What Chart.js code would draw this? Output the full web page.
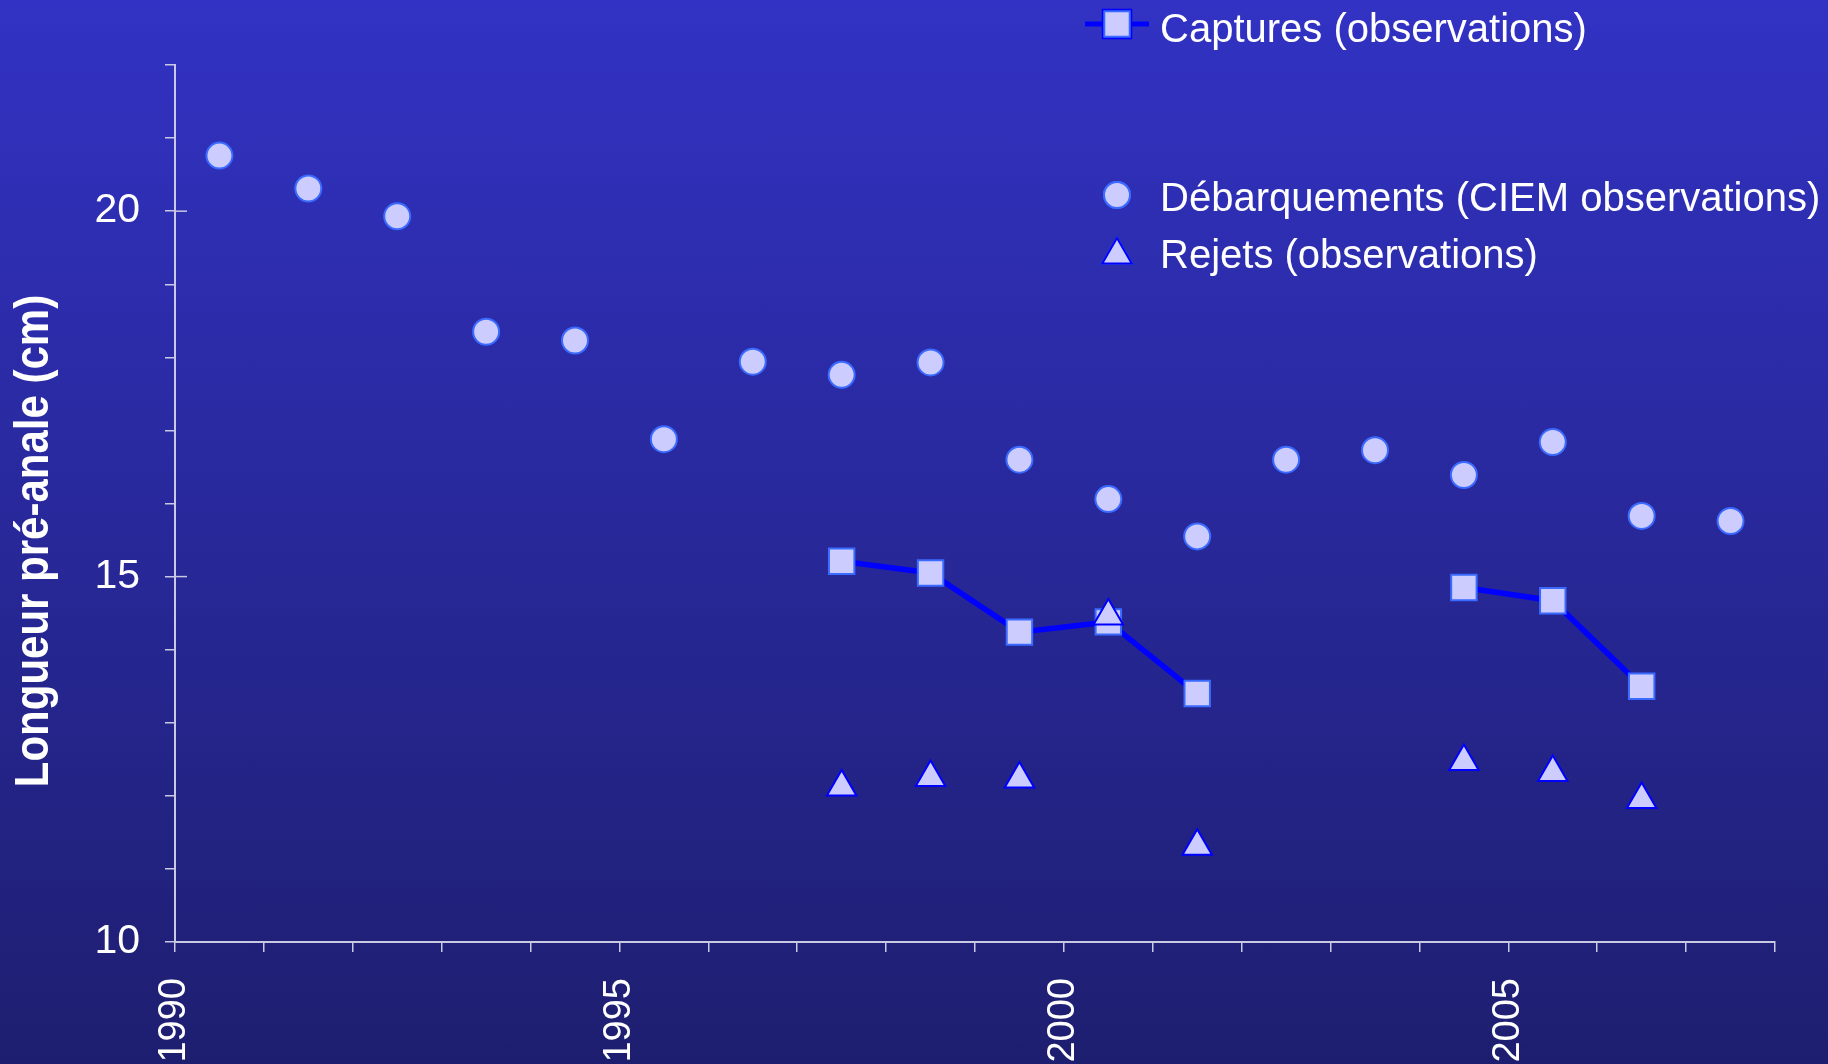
<!DOCTYPE html>
<html>
<head>
<meta charset="utf-8">
<script src="https://cdn.jsdelivr.net/npm/chart.js@4/dist/chart.umd.min.js"></script>
<style>
  html, body { margin: 0; padding: 0; }
  #chart { display: block; background: linear-gradient(#3232c4, #1e1e70); }
</style>
</head>
<body>
<canvas id="chart" width="1828" height="1064"></canvas>
<script>
// Années (points placés au milieu de l'année)
const years = [1990.5, 1991.5, 1992.5, 1993.5, 1994.5, 1995.5, 1996.5, 1997.5, 1998.5,
               1999.5, 2000.5, 2001.5, 2002.5, 2003.5, 2004.5, 2005.5, 2006.5, 2007.5];

const debarquements = [20.76, 20.31, 19.93, 18.35, 18.23, 16.88, 17.94, 17.76, 17.93,
                       16.60, 16.06, 15.55, 16.60, 16.73, 16.39, 16.84, 15.83, 15.76];

const captures = [null, null, null, null, null, null, null, 15.21, 15.05,
                  14.24, 14.38, 13.40, null, null, 14.85, 14.67, 13.50, null];

const rejets = [null, null, null, null, null, null, null, 12.12, 12.25,
                12.23, 14.46, 11.31, null, null, 12.47, 12.32, 11.95, null];

const labels = ['Captures (observations)', 'Débarquements (CIEM observations)', 'Rejets (observations)'];
const yLabeled = [10, 15, 20];
const xLabeled = [1990, 1995, 2000, 2005];
const yTitle = 'Longueur pré-anale (cm)';

const FONT = '"Liberation Sans", Arial, sans-serif';
const AXIS_COLOR = '#c9c9e4';
const FILL = '#ccccff';

function pairs(values) {
    return years.map((x, i) => ({ x: x, y: values[i] }));
}

// legend + y title drawn by hand (layout of the original is not a standard legend)
const decorPlugin = {
    id: 'decor',
    afterDraw(chart) {
        const ctx = chart.ctx;
        const yScale = chart.scales.y;
        const area = chart.chartArea;

        // major ticks crossing the axis
        ctx.save();
        ctx.strokeStyle = AXIS_COLOR;
        ctx.lineWidth = 1.5;
        [15, 20].forEach(v => {
            const py = yScale.getPixelForValue(v);
            ctx.beginPath();
            ctx.moveTo(area.left, py);
            ctx.lineTo(area.left + 12, py);
            ctx.stroke();
        });
        ctx.restore();

        // y title
        ctx.save();
        ctx.translate(35, 541);
        ctx.rotate(-Math.PI / 2);
        ctx.scale(1, 1.15);
        ctx.fillStyle = '#ffffff';
        ctx.font = 'bold 42px ' + FONT;
        ctx.textAlign = 'center';
        ctx.textBaseline = 'middle';
        ctx.fillText(yTitle, 0, 0);
        ctx.restore();

        // legend
        const symX = 1117;
        const textX = 1160;
        const rows = [
            { y: 24, ty: 31, ds: 0, line: true },
            { y: 195, ty: 200, ds: 1 },
            { y: 255, ty: 257, ds: 2 }
        ];
        ctx.save();
        rows.forEach(r => {
            const d = chart.data.datasets[r.ds];
            if (r.line) {
                ctx.strokeStyle = d.borderColor;
                ctx.lineWidth = 5;
                ctx.beginPath();
                ctx.moveTo(symX - 32, r.y);
                ctx.lineTo(symX + 32, r.y);
                ctx.stroke();
            }
            Chart.helpers.drawPoint(ctx, {
                pointStyle: d.pointStyle,
                radius: d.pointRadius,
                rotation: 0,
                borderWidth: d.pointBorderWidth
            }, symX, r.y);
            ctx.fillStyle = d.pointBackgroundColor;
            ctx.strokeStyle = d.pointBorderColor;
            ctx.lineWidth = d.pointBorderWidth;
            ctx.fill();
            ctx.stroke();

            ctx.fillStyle = '#ffffff';
            ctx.font = '40px ' + FONT;
            ctx.textAlign = 'left';
            ctx.textBaseline = 'middle';
            ctx.fillText(d.label, textX, r.ty);
        });
        ctx.restore();
    }
};

new Chart(document.getElementById('chart'), {
    type: 'line',
    data: {
        datasets: [
            {
                label: labels[0],
                data: pairs(captures),
                borderColor: '#0000ff',
                borderWidth: 5.5,
                pointStyle: 'rect',
                pointRadius: 18,
                pointBackgroundColor: FILL,
                pointBorderColor: '#3a6aff',
                pointBorderWidth: 2,
                spanGaps: false,
                order: 1
            },
            {
                label: labels[1],
                data: pairs(debarquements),
                showLine: false,
                pointStyle: 'circle',
                pointRadius: 13,
                pointBackgroundColor: FILL,
                pointBorderColor: '#3a6aff',
                pointBorderWidth: 2,
                order: 2
            },
            {
                label: labels[2],
                data: pairs(rejets),
                showLine: false,
                pointStyle: 'triangle',
                pointRadius: 17,
                pointBackgroundColor: FILL,
                pointBorderColor: '#0000ff',
                pointBorderWidth: 2,
                order: 0
            }
        ]
    },
    options: {
        responsive: false,
        animation: false,
        layout: { padding: { top: 65, right: 53, left: 0, bottom: 0 } },
        plugins: {
            legend: { display: false },
            tooltip: { enabled: false }
        },
        scales: {
            x: {
                type: 'linear',
                min: 1990,
                max: 2008,
                grid: { drawOnChartArea: false, drawTicks: true, tickLength: 10, color: AXIS_COLOR, lineWidth: 1.5 },
                border: { color: AXIS_COLOR, width: 2 },
                ticks: {
                    stepSize: 1,
                    autoSkip: false,
                    minRotation: 90,
                    maxRotation: 90,
                    padding: 26,
                    color: '#ffffff',
                    font: { family: FONT, size: 38 },
                    callback: v => xLabeled.includes(v) ? String(v) : ''
                },
                afterFit: s => {
                    s.height = 122;
                    s.paddingLeft = 0;
                    s.paddingRight = 0;
                }
            },
            y: {
                min: 10,
                max: 22,
                grid: { drawOnChartArea: false, drawTicks: true, tickLength: 10, color: AXIS_COLOR, lineWidth: 1.5 },
                border: { color: AXIS_COLOR, width: 2 },
                ticks: {
                    stepSize: 1,
                    autoSkip: false,
                    padding: 25,
                    color: '#ffffff',
                    font: { family: FONT, size: 41 },
                    callback: v => yLabeled.includes(v) ? String(v) : ''
                },
                afterFit: s => {
                    s.width = 175;
                    s.paddingTop = 0;
                    s.paddingBottom = 0;
                }
            }
        }
    },
    plugins: [decorPlugin]
});
</script>
</body>
</html>
